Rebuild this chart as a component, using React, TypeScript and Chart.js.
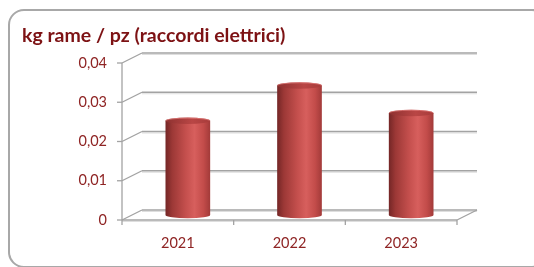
import React, { useEffect, useRef } from 'react';
import { Chart, registerables } from 'chart.js';

Chart.register(...registerables);

const categories = ['2021', '2022', '2023'];
const values = [0.024, 0.033, 0.026];
const yTicks = [0, 0.01, 0.02, 0.03, 0.04];
const titleText = 'kg rame / pz (raccordi elettrici)';

const DX = 20;
const DY = -10;
const GRID = '#a3a3a3';
const GRID_SHADOW = '#dedede';

function barGradient(ctx: CanvasRenderingContext2D, x0: number, w: number) {
  const g = ctx.createLinearGradient(x0, 0, x0 + w, 0);
  g.addColorStop(0, '#742626');
  g.addColorStop(0.15, '#9c3836');
  g.addColorStop(0.45, '#c44f4d');
  g.addColorStop(0.65, '#d75f5d');
  g.addColorStop(0.85, '#c34c4a');
  g.addColorStop(1, '#a23a39');
  return g;
}

function line(ctx: CanvasRenderingContext2D, x1: number, y1: number, x2: number, y2: number) {
  ctx.beginPath();
  ctx.moveTo(x1, y1);
  ctx.lineTo(x2, y2);
  ctx.stroke();
}

const threeD = {
  id: 'threeD',
  beforeDatasetsDraw(chart: any) {
    const ctx: CanvasRenderingContext2D = chart.ctx;
    const { left, right, top, bottom } = chart.chartArea;
    const ys = chart.scales.y;
    ctx.save();
    ctx.lineCap = 'butt';
    ctx.strokeStyle = GRID_SHADOW;
    ctx.lineWidth = 1;
    yTicks.forEach((v) => {
      const y = ys.getPixelForValue(v);
      line(ctx, left + DX, y + DY + 1.5, right + DX, y + DY + 1.5);
    });
    line(ctx, left, bottom + 1.5, right, bottom + 1.5);
    ctx.strokeStyle = GRID;
    ctx.lineWidth = 1.3;
    yTicks.forEach((v) => {
      const y = ys.getPixelForValue(v);
      line(ctx, left, y, left + DX, y + DY);
      line(ctx, left + DX, y + DY, right + DX, y + DY);
      line(ctx, left - 5, y, left, y);
    });
    line(ctx, left, bottom, right, bottom);
    line(ctx, right, bottom, right + DX, bottom + DY);
    line(ctx, left, top, left, bottom);
    const n = categories.length;
    for (let i = 0; i <= n; i++) {
      const x = left + ((right - left) * i) / n;
      line(ctx, x, bottom, x, bottom + 5);
    }
    ctx.restore();
    ctx.save();
    ctx.translate(DX / 2, DY / 2);
  },
  afterDatasetsDraw(chart: any) {
    const ctx: CanvasRenderingContext2D = chart.ctx;
    const meta = chart.getDatasetMeta(0);
    meta.data.forEach((el: any) => {
      const w = el.width;
      const x0 = el.x - w / 2;
      const ry = 3.2;
      ctx.fillStyle = barGradient(ctx, x0, w);
      ctx.beginPath();
      ctx.ellipse(el.x, el.base, w / 2, ry, 0, 0, Math.PI);
      ctx.fill();
      const cg = ctx.createLinearGradient(x0, 0, x0 + w, 0);
      cg.addColorStop(0, '#8e3130');
      cg.addColorStop(0.6, '#b94645');
      cg.addColorStop(1, '#a83c3b');
      ctx.fillStyle = cg;
      ctx.beginPath();
      ctx.ellipse(el.x, el.y, w / 2, ry, 0, 0, Math.PI * 2);
      ctx.fill();
      ctx.strokeStyle = 'rgba(230,130,128,0.7)';
      ctx.lineWidth = 1;
      ctx.beginPath();
      ctx.ellipse(el.x, el.y, w / 2 - 0.5, ry - 0.5, 0, Math.PI, Math.PI * 2);
      ctx.stroke();
    });
    ctx.restore();
  },
};

export default function App() {
  const ref = useRef<HTMLCanvasElement | null>(null);

  useEffect(() => {
    if (!ref.current) return;
    const chart = new Chart(ref.current, {
      type: 'bar',
      data: {
        labels: categories,
        datasets: [
          {
            data: values,
            backgroundColor: (c: any) => {
              const ch = c.chart;
              const xs = ch.scales?.x;
              if (!xs || !ch.chartArea) return '#c44f4d';
              const cw = (ch.chartArea.right - ch.chartArea.left) / categories.length;
              const w = cw * 0.4;
              const cx = xs.getPixelForValue(c.dataIndex);
              return barGradient(ch.ctx, cx - w / 2, w);
            },
            borderWidth: 0,
            barPercentage: 0.4,
            categoryPercentage: 1,
            clip: false as any,
          },
        ],
      },
      options: {
        responsive: false,
        animation: false,
        layout: { padding: { left: 22, right: 77, top: 0, bottom: 0 } },
        plugins: {
          legend: { display: false },
          tooltip: { enabled: false },
          title: {
            display: true,
            text: titleText,
            align: 'start',
            color: '#7d1214',
            font: { family: 'Lato', size: 19.5, weight: 'bold', lineHeight: 1.2 },
            padding: { top: 24.3, bottom: 15.3 },
          },
        },
        scales: {
          x: {
            grid: { display: false, drawTicks: false },
            border: { display: false },
            ticks: {
              color: '#8f2424',
              font: { family: 'Lato', size: 14.5 },
              padding: 15,
              maxRotation: 0,
            },
            afterFit: (s: any) => {
              s.height = 47;
            },
          },
          y: {
            min: 0,
            max: 0.04,
            grid: { display: false, drawTicks: false },
            border: { display: false },
            afterBuildTicks: (s: any) => {
              s.ticks = yTicks.map((v) => ({ value: v }));
            },
            ticks: {
              color: '#8f2424',
              font: { family: 'Lato', size: 14.5 },
              padding: 15,
              callback: (v: any) => (Number(v) === 0 ? '0' : Number(v).toFixed(2).replace('.', ',')),
            },
            afterFit: (s: any) => {
              s.width = 100;
            },
          },
        },
      },
      plugins: [threeD],
    });
    return () => chart.destroy();
  }, []);

  return (
    <div style={{ position: 'fixed', left: 0, top: 0, width: 534, height: 267, overflow: 'hidden', background: '#fff' }}>
      <div
        style={{
          position: 'absolute',
          left: 8,
          top: 9,
          width: 540,
          height: 259,
          border: '2px solid #a8a8a8',
          borderRadius: 16,
          boxSizing: 'border-box',
        }}
      />
      <canvas ref={ref} width={534} height={267} style={{ position: 'absolute', left: 0, top: 0, width: 534, height: 267 }} />
    </div>
  );
}
